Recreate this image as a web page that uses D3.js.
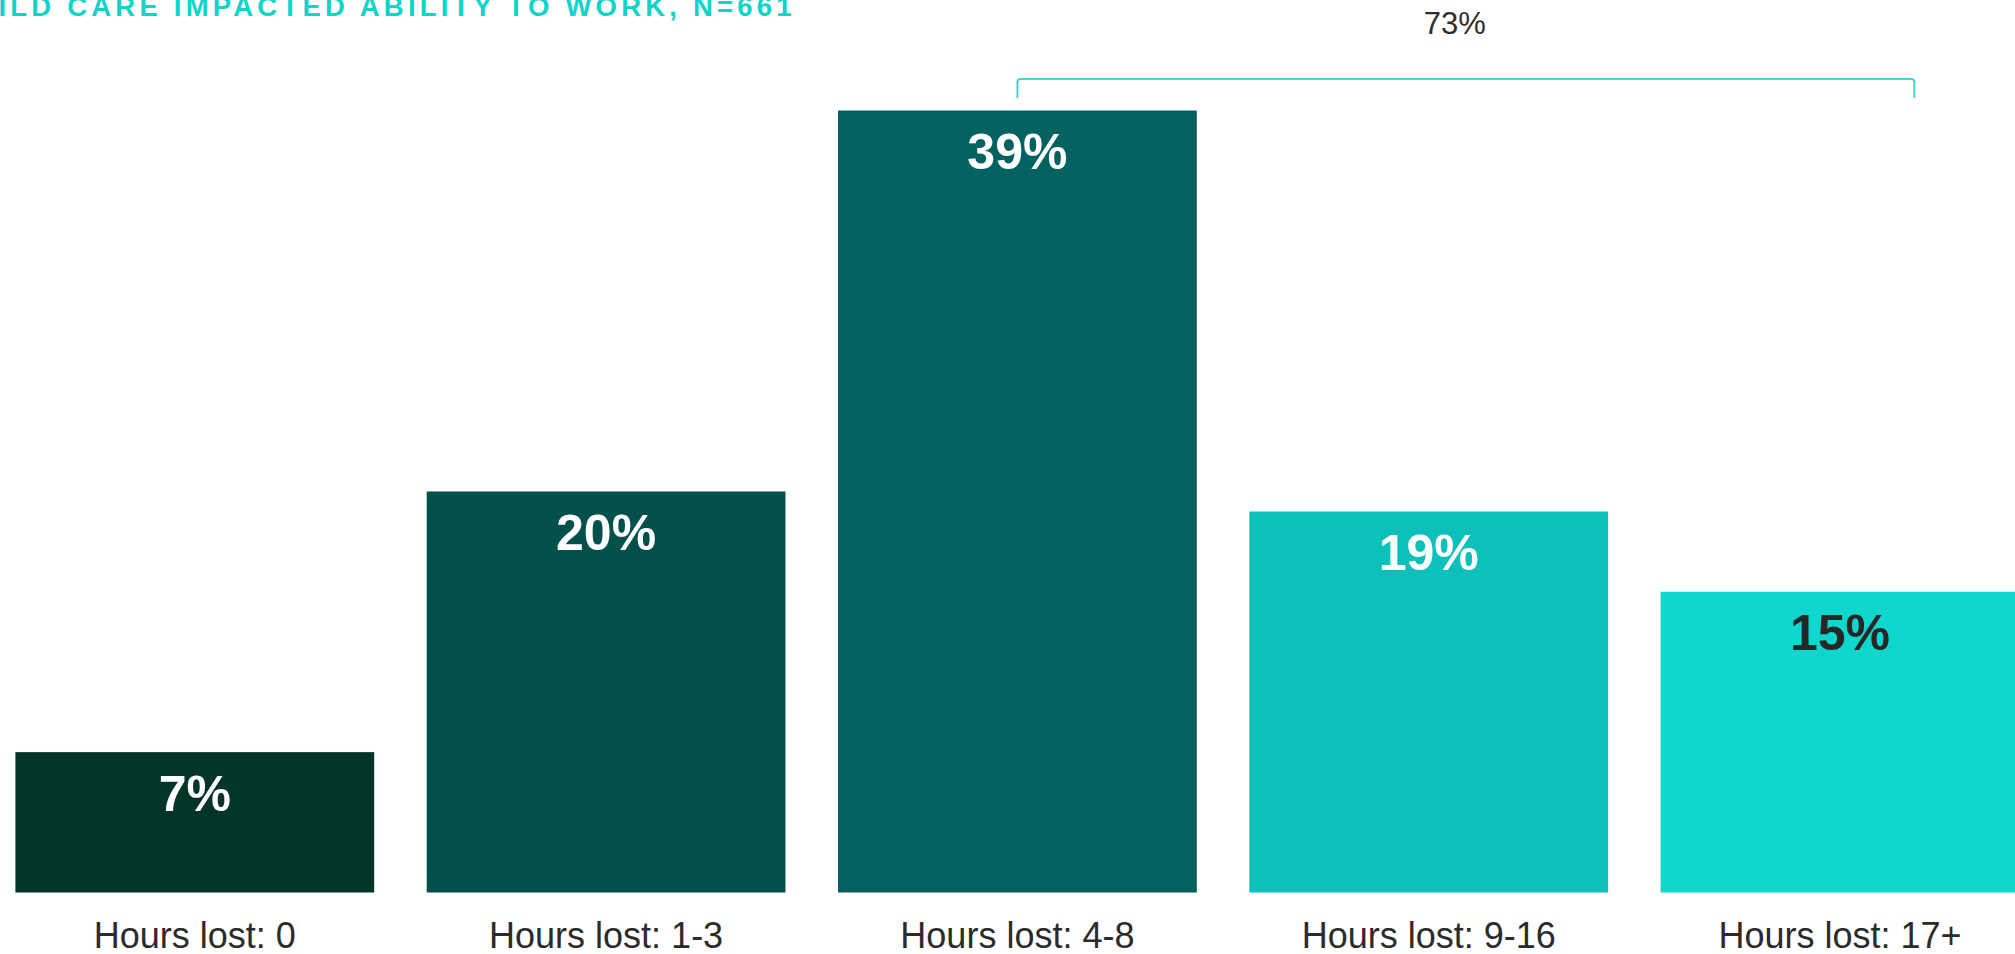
<!DOCTYPE html>
<html>
<head>
<meta charset="utf-8">
<script src="https://cdn.jsdelivr.net/npm/d3@7"></script>
<style>
  html, body { margin: 0; padding: 0; background: #ffffff; overflow: hidden; }
  svg { display: block; }
  text { font-family: "Liberation Sans", Arial, sans-serif; }
</style>
</head>
<body>
<svg id="chart" width="2015" height="954"></svg>
<script>
// ---- data ----
const categories = ["Hours lost: 0", "Hours lost: 1-3", "Hours lost: 4-8", "Hours lost: 9-16", "Hours lost: 17+"];
const values = [7, 20, 39, 19, 15];
const valueLabels = ["7%", "20%", "39%", "19%", "15%"];
const barColors = ["#033428", "#02504b", "#02625f", "#0dc0bb", "#0fd7cd"];
const labelColors = ["#ffffff", "#ffffff", "#ffffff", "#ffffff", "#262626"];
const titleText = "CHILD CARE IMPACTED ABILITY TO WORK, N=661";
const bracketFrom = "Hours lost: 4-8";
const bracketTo = "Hours lost: 17+";
const bracketLabel = "73%";

// ---- chart ----
const svg = d3.select("#chart");

const x = d3.scaleBand()
  .domain(categories)
  .range([15.4, 2019.4])
  .paddingInner(0.1277)
  .paddingOuter(0);

const y = d3.scaleLinear()
  .domain([0, 39])
  .range([892.5, 110.5]);

const data = categories.map((c, i) => ({ c, v: values[i], label: valueLabels[i], fill: barColors[i], tc: labelColors[i] }));

// bars
svg.append("g").selectAll("rect")
  .data(data)
  .join("rect")
  .attr("x", d => x(d.c))
  .attr("y", d => y(d.v))
  .attr("width", x.bandwidth())
  .attr("height", d => y(0) - y(d.v))
  .attr("fill", d => d.fill);

// value labels
svg.append("g").selectAll("text")
  .data(data)
  .join("text")
  .attr("x", d => x(d.c) + x.bandwidth() / 2)
  .attr("y", d => y(d.v) + 58.5)
  .attr("text-anchor", "middle")
  .attr("font-size", 50)
  .attr("font-weight", "bold")
  .attr("fill", d => d.tc)
  .text(d => d.label);

// x axis (no line, no ticks)
const xAxis = svg.append("g")
  .attr("transform", `translate(0,${y(0)})`)
  .call(d3.axisBottom(x).tickSize(0).tickPadding(0));
xAxis.select(".domain").remove();
xAxis.selectAll("text")
  .attr("y", 55.5)
  .attr("dy", null)
  .attr("font-size", 36)
  .attr("font-family", "Liberation Sans, Arial, sans-serif")
  .attr("fill", "#2b2b2b");

// bracket annotation
const bx0 = x(bracketFrom) + x.bandwidth() / 2;
const bx1 = x(bracketTo) + x.bandwidth() * 0.707;
const by = 79;
const byEnd = 98;
const r = 3;
svg.append("path")
  .attr("d", `M${bx0},${byEnd} L${bx0},${by + r} Q${bx0},${by} ${bx0 + r},${by} L${bx1 - r},${by} Q${bx1},${by} ${bx1},${by + r} L${bx1},${byEnd}`)
  .attr("fill", "none")
  .attr("stroke", "#3fd9d1")
  .attr("stroke-width", 2);

svg.append("text")
  .attr("x", (bx0 + bx1) / 2 - 11)
  .attr("y", 34)
  .attr("text-anchor", "middle")
  .attr("font-size", 31)
  .attr("fill", "#2e2e2e")
  .text(bracketLabel);

// title (partly outside the canvas, as in the reference)
const title = svg.append("text")
  .attr("x", 0)
  .attr("y", 15.5)
  .attr("font-size", 27.5)
  .attr("font-weight", "bold")
  .attr("letter-spacing", "4.2px")
  .attr("fill", "#10d4ca")
  .text(titleText);
const iPos = title.node().getStartPositionOfChar(2).x;
title.attr("x", -iPos - 1.5);
</script>
</body>
</html>
